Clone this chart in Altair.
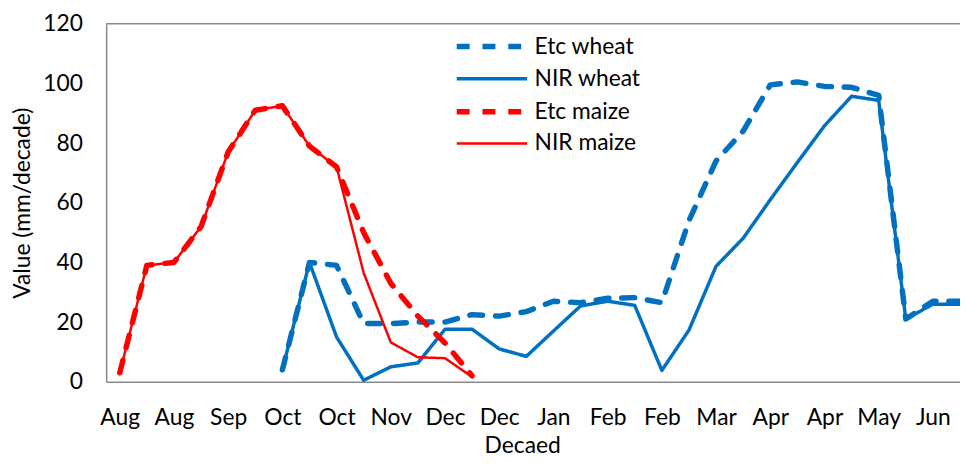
import json
import altair as alt
import pandas as pd

# ---- data ----
months = ["Aug", "Aug", "Sep", "Oct", "Oct", "Nov", "Dec", "Dec",
          "Jan", "Feb", "Feb", "Mar", "Apr", "Apr", "May", "Jun"]

wheat_idx = list(range(6, 32))
etc_wheat = [4, 40, 39, 19.5, 19.5, 20, 20, 22.5, 22, 23.5, 27, 26.5, 28, 28.2, 26.5,
             54, 74, 84, 99.5, 100.5, 99, 98.7, 96, 21, 27, 27]
nir_wheat = [4, 40, 15, 0.5, 5, 6.3, 17.6, 17.6, 11, 8.5, 17, 25.4, 27, 25.6, 3.8,
             17.3, 38.7, 48.1, 61, 73.5, 85.8, 95.7, 94.3, 21, 26, 26]

maize_idx = list(range(0, 14))
etc_maize = [3, 39, 40, 52, 77, 91, 92.5, 79, 72, 50, 33, 22, 13, 2]
nir_maize = [3, 39, 40, 52, 77, 91, 92.5, 79, 72, 36.5, 13.2, 8.2, 7.9, 1.6]

series_order = ["Etc wheat", "NIR wheat", "Etc maize", "NIR maize"]
series_colors = ["#0070C0", "#0070C0", "#FF0000", "#FF0000"]
series_dash = [[13, 13], [1, 0], [13, 13], [1, 0]]
series_width = [5.5, 3.5, 5.5, 2.5]

rows = []
for name, xs, vs in [("Etc wheat", wheat_idx, etc_wheat),
                     ("NIR wheat", wheat_idx, nir_wheat),
                     ("Etc maize", maize_idx, etc_maize),
                     ("NIR maize", maize_idx, nir_maize)]:
    for i, v in zip(xs, vs):
        rows.append({"series": name, "idx": i, "value": v})
df = pd.DataFrame(rows)

FONT = "Lato"
W, H = 861, 361
label_expr = json.dumps(months) + "[round(datum.value / 2)]"

base = alt.Chart(df).mark_line(strokeCap="round", strokeJoin="round").encode(
    x=alt.X("idx:Q",
            scale=alt.Scale(domain=[-0.5, 31], nice=False, zero=False),
            axis=alt.Axis(values=list(range(0, 31, 2)), labelExpr=label_expr,
                          title="Decaed", grid=False, ticks=False,
                          labelPadding=25, labelOverlap=False, labelFlush=False,
                          titleX=419.5, titleY=71, titleBaseline="alphabetic",
                          titleAnchor="middle")),
    y=alt.Y("value:Q",
            scale=alt.Scale(domain=[0, 120], nice=False),
            axis=alt.Axis(values=[0, 20, 40, 60, 80, 100, 120],
                          title="Value (mm/decade)", grid=False, ticks=False,
                          labelPadding=24, titlePadding=8)),
    color=alt.Color("series:N",
                    scale=alt.Scale(domain=series_order, range=series_colors),
                    legend=alt.Legend(title=None)),
    strokeDash=alt.StrokeDash("series:N",
                              scale=alt.Scale(domain=series_order, range=series_dash),
                              legend=alt.Legend(title=None)),
    strokeWidth=alt.StrokeWidth("series:N",
                                scale=alt.Scale(type="ordinal", domain=series_order,
                                                range=series_width),
                                legend=alt.Legend(title=None)),
)

layers = [base.transform_filter(alt.datum.series == s) for s in series_order]

frame_top = alt.Chart(pd.DataFrame({"k": [0]})).mark_rule(
    color="#898989", strokeWidth=1.5
).encode(x=alt.value(0), x2=alt.value(W), y=alt.value(0))

chart = alt.layer(frame_top, *layers).properties(
    width=W, height=H,
    autosize=alt.AutoSizeParams(type="none"),
    padding={"left": 99, "top": 14, "right": 0, "bottom": 74},
).configure_view(stroke=None).configure_axis(
    domainColor="#898989", domainWidth=1.5,
    labelFont=FONT, labelFontSize=23, labelColor="#000000",
    titleFont=FONT, titleFontSize=23, titleFontWeight="normal", titleColor="#000000",
).configure_legend(
    orient="none", legendX=374, legendY=8,
    symbolType="M-3,0L3,0", symbolSize=560,
    labelFont=FONT, labelFontSize=23, labelColor="#000000",
    labelOffset=28, padding=0, rowPadding=6.4,
)

chart.save("out.html", embed_options={"renderer": "svg", "actions": False})
